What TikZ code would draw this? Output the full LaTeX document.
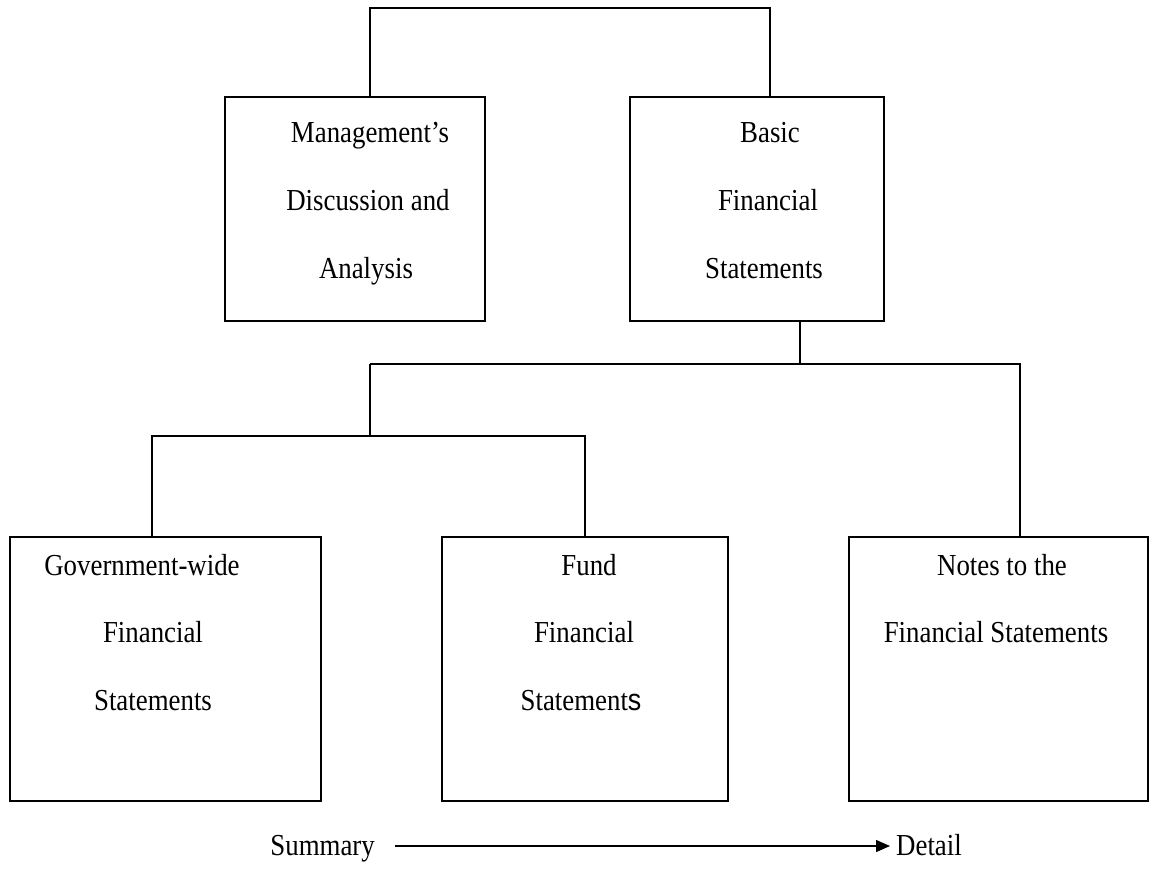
\documentclass[tikz,border=0pt]{standalone}
\usepackage{fontspec}
\setmainfont{Liberation Serif}[FakeStretch=0.88]
\newfontfamily\sansS{Liberation Sans}[FakeStretch=0.88]
\usetikzlibrary{arrows.meta}
\tikzset{
  box/.style={draw, line width=1.6pt, rectangle, anchor=north west, inner sep=0pt},
  lbl/.style={anchor=base, inner sep=0pt, font=\fontsize{30.5}{34}\selectfont},
  conn/.style={draw, line width=1.6pt},
}
\begin{document}
\begin{tikzpicture}[x=1pt,y=-1pt]
\useasboundingbox[fill=white] (0,0) rectangle (1149,880);
% boxes
\node[box, minimum width=260pt, minimum height=224pt] (mda) at (224,96) {};
\node[box, minimum width=254pt, minimum height=224pt] (bfs) at (629,96) {};
\node[box, minimum width=311pt, minimum height=264pt] (gov) at (9,536) {};
\node[box, minimum width=286pt, minimum height=264pt] (fund) at (441,536) {};
\node[box, minimum width=299pt, minimum height=264pt] (notes) at (848,536) {};
% texts
\node[lbl] (m1) at (370,143) {Management’s};
\node[lbl] (m2) at (368,210) {Discussion and};
\node[lbl] (m3) at (366,278) {Analysis};
\node[lbl] (b1) at (770,143) {Basic};
\node[lbl] (b2) at (768,210) {Financial};
\node[lbl] (b3) at (764,278) {Statements};
\node[lbl] (g1) at (142,575) {Government-wide};
\node[lbl] (g2) at (153,642) {Financial};
\node[lbl] (g3) at (153,710) {Statements};
\node[lbl] (f1) at (589,575) {Fund};
\node[lbl] (f2) at (584,642) {Financial};
\node[lbl] (f3) at (581,710) {Statement{\sansS s}};
\node[lbl] (n1) at (1002,575) {Notes to the};
\node[lbl] (n2) at (996,642) {Financial Statements};
% connectors
\coordinate (t1) at (370,8);
\coordinate (t2) at (770,8);
\draw[conn] (mda.north -| t1) -- (t1) -- (t2) -- (bfs.north -| t2);
\coordinate (s1) at (800,320);
\coordinate (h1) at (370,364);
\coordinate (h2) at (1020,364);
\draw[conn] (s1) -- (s1 |- h1);
\draw[conn] (h1) -- (h2) -- (notes.north -| h2);
\coordinate (k1) at (152,436);
\coordinate (k2) at (585,436);
\draw[conn] (h1) -- (h1 |- k1);
\draw[conn] (gov.north -| k1) -- (k1) -- (k2) -- (fund.north -| k2);
% arrow
\node[lbl, anchor=base east] (sum) at (375,855) {Summary};
\node[lbl, anchor=base west] (det) at (896,855) {Detail};
\draw[line width=1.4pt, -{Triangle[length=14pt,width=12pt]}] ([xshift=20pt,yshift=9pt]sum.base east) -- ([xshift=-6pt,yshift=9pt]det.base west);
\end{tikzpicture}
\end{document}
